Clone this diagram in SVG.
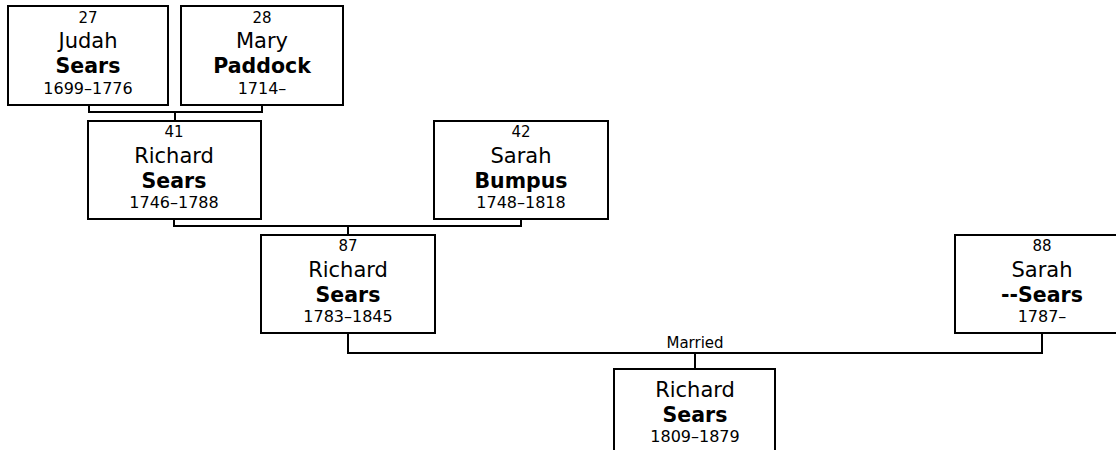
<svg xmlns="http://www.w3.org/2000/svg" width="1116" height="450" viewBox="0 0 1116 450">
<style>
.box{fill:#fff;stroke:#000;stroke-width:2}
.ln{fill:none;stroke:#000;stroke-width:2}
text{font-family:"DejaVu Sans",Verdana,sans-serif;fill:#000;text-anchor:middle}
.num{font-size:15px}
.nm{font-size:21px}
.sn{font-size:20.5px;font-weight:bold}
.dt{font-size:16px}
.lbl{font-size:15px}
</style>
<rect width="1116" height="450" fill="#fff"/>
<g id="connectors">
<path class="ln" d="M89 105V112H262V105M175 112V121"/>
<path class="ln" d="M174 219V226H521V219M348 226V235"/>
<path class="ln" d="M348 333V353H1042V333M695 353V369"/>
<text class="lbl" x="695" y="348">Married</text>
</g>
<g id="p27">
<rect class="box" x="8" y="6" width="160" height="99"/>
<text class="num" x="88" y="23">27</text>
<text class="nm" x="88" y="48">Judah</text>
<text class="sn" x="88" y="73">Sears</text>
<text class="dt" x="88" y="94">1699–1776</text>
</g>
<g id="p28">
<rect class="box" x="181" y="6" width="162" height="99"/>
<text class="num" x="262" y="23">28</text>
<text class="nm" x="262" y="48">Mary</text>
<text class="sn" x="262" y="73">Paddock</text>
<text class="dt" x="262" y="94">1714–</text>
</g>
<g id="p41">
<rect class="box" x="88" y="121" width="173" height="98"/>
<text class="num" x="174" y="137">41</text>
<text class="nm" x="174" y="163">Richard</text>
<text class="sn" x="174" y="188">Sears</text>
<text class="dt" x="174" y="208">1746–1788</text>
</g>
<g id="p42">
<rect class="box" x="434" y="121" width="174" height="98"/>
<text class="num" x="521" y="137">42</text>
<text class="nm" x="521" y="163">Sarah</text>
<text class="sn" x="521" y="188">Bumpus</text>
<text class="dt" x="521" y="208">1748–1818</text>
</g>
<g id="p87">
<rect class="box" x="261" y="235" width="174" height="98"/>
<text class="num" x="348" y="251">87</text>
<text class="nm" x="348" y="277">Richard</text>
<text class="sn" x="348" y="302">Sears</text>
<text class="dt" x="348" y="322">1783–1845</text>
</g>
<g id="p88">
<rect class="box" x="955" y="235" width="174" height="98"/>
<text class="num" x="1042" y="251">88</text>
<text class="nm" x="1042" y="277">Sarah</text>
<text class="sn" x="1042" y="302">--Sears</text>
<text class="dt" x="1042" y="322">1787–</text>
</g>
<g id="p_richard">
<rect class="box" x="614" y="369" width="161" height="100"/>
<text class="nm" x="695" y="397">Richard</text>
<text class="sn" x="695" y="422">Sears</text>
<text class="dt" x="695" y="442">1809–1879</text>
</g>
</svg>
